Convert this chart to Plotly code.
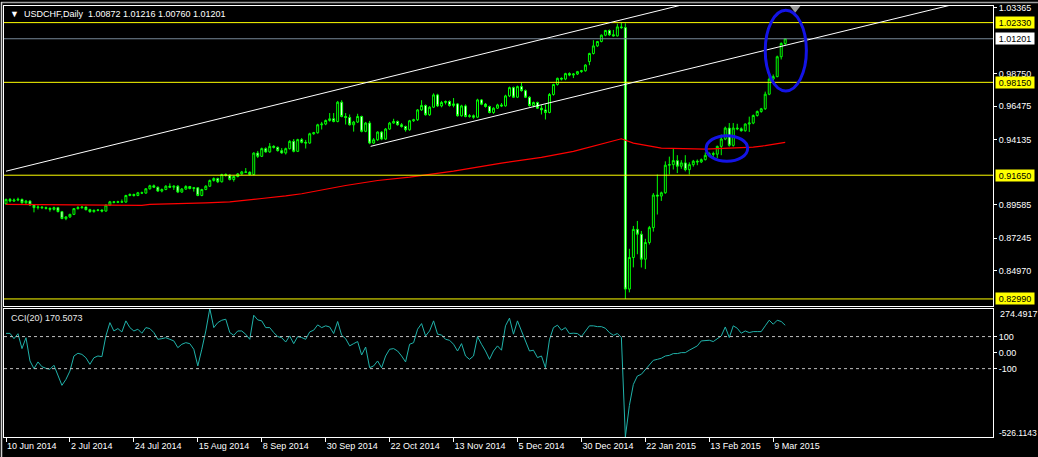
import plotly.graph_objects as go

# ---------------- data ----------------
bar_index = list(range(196))

opens = [
0.8965,0.8996,0.8984,0.8991,0.8996,0.8972,0.8984,0.8956,0.8938,0.8942,
0.8938,0.8933,0.8926,0.8938,0.8910,0.8861,0.8873,0.8891,0.8931,0.8938,
0.8942,0.8924,0.8910,0.8919,0.8921,0.8914,0.8956,0.8979,0.8975,0.8979,
0.8977,0.9023,0.9030,0.9023,0.9042,0.9040,0.9070,0.9091,0.9081,0.9054,
0.9065,0.9088,0.9081,0.9088,0.9047,0.9068,0.9086,0.9072,0.9077,0.9023,
0.9065,0.9088,0.9128,0.9142,0.9119,0.9170,0.9165,0.9135,0.9156,0.9174,
0.9188,0.9186,0.9170,0.9320,0.9297,0.9351,0.9328,0.9367,0.9360,0.9337,
0.9321,0.9351,0.9402,0.9332,0.9414,0.9395,0.9390,0.9455,0.9462,0.9518,
0.9523,0.9548,0.9560,0.9541,0.9676,0.9576,0.9569,0.9518,0.9537,0.9576,
0.9472,0.9530,0.9390,0.9413,0.9467,0.9418,0.9488,0.9530,0.9541,0.9518,
0.9506,0.9483,0.9546,0.9553,0.9622,0.9653,0.9588,0.9641,0.9727,0.9650,
0.9674,0.9681,0.9653,0.9664,0.9581,0.9650,0.9576,0.9581,0.9571,0.9692,
0.9662,0.9646,0.9604,0.9634,0.9657,0.9650,0.9720,0.9778,0.9711,0.9785,
0.9757,0.9711,0.9653,0.9674,0.9634,0.9622,0.9604,0.9730,0.9800,0.9843,
0.9838,0.9876,0.9866,0.9873,0.9890,0.9896,0.9960,1.0017,1.0070,1.0101,
1.0145,1.0178,1.0148,1.0140,1.0203,1.0198,0.8368,0.8589,0.8786,0.8752,
0.8577,0.8694,0.8798,0.9026,0.9019,0.9042,0.9235,0.9239,0.9267,0.9228,
0.9251,0.9204,0.9239,0.9263,0.9258,0.9274,0.9304,0.9316,0.9312,0.9367,
0.9418,0.9495,0.9374,0.9495,0.9490,0.9476,0.9523,0.9530,0.9583,0.9611,
0.9630,0.9732,0.9838,0.9855,0.9994,1.00872]

highs = [
0.9000,0.9005,0.9002,0.9008,0.9001,0.8992,0.8990,0.8962,0.8955,0.8948,
0.8945,0.8940,0.8945,0.8943,0.8915,0.8878,0.8895,0.8935,0.8948,0.8950,
0.8946,0.8930,0.8925,0.8928,0.8926,0.8960,0.8985,0.8984,0.8986,0.8995,
0.9028,0.9038,0.9036,0.9048,0.9050,0.9075,0.9098,0.9100,0.9086,0.9072,
0.9095,0.9108,0.9094,0.9096,0.9075,0.9095,0.9090,0.9082,0.9082,0.9070,
0.9095,0.9135,0.9150,0.9148,0.9175,0.9178,0.9172,0.9162,0.9180,0.9195,
0.9215,0.9192,0.9325,0.9335,0.9358,0.9360,0.9390,0.9375,0.9366,0.9355,
0.9358,0.9410,0.9418,0.9420,0.9425,0.9412,0.9462,0.9468,0.9525,0.9538,
0.9555,0.9600,0.9600,0.9685,0.9690,0.9600,0.9590,0.9545,0.9595,0.9582,
0.9538,0.9545,0.9425,0.9472,0.9474,0.9495,0.9538,0.9560,0.9548,0.9530,
0.9512,0.9552,0.9560,0.9628,0.9690,0.9660,0.9648,0.9738,0.9735,0.9685,
0.9688,0.9688,0.9705,0.9670,0.9658,0.9660,0.9592,0.9590,0.9700,0.9698,
0.9670,0.9652,0.9640,0.9665,0.9670,0.9728,0.9785,0.9785,0.9792,0.9812,
0.9765,0.9718,0.9680,0.9680,0.9655,0.9660,0.9740,0.9805,0.9848,0.9850,
0.9882,0.9885,0.9880,0.9895,0.9902,0.9942,1.0022,1.0110,1.0105,1.0150,
1.0182,1.0185,1.0182,1.0225,1.0233,1.0228,0.8650,0.8810,0.8845,0.8775,
0.8720,0.8810,0.9040,0.9170,0.9050,0.9262,0.9295,0.9355,0.9305,0.9270,
0.9305,0.9255,0.9272,0.9275,0.9282,0.9325,0.9325,0.9330,0.9372,0.9450,
0.9505,0.9530,0.9530,0.9525,0.9500,0.9528,0.9575,0.9590,0.9618,0.9636,
0.9750,0.9865,0.9870,1.0002,1.0095,1.01216]

lows = [
0.8958,0.8975,0.8978,0.8983,0.8966,0.8965,0.8950,0.8905,0.8925,0.8928,
0.8925,0.8910,0.8918,0.8905,0.8858,0.8850,0.8866,0.8886,0.8925,0.8930,
0.8918,0.8902,0.8903,0.8912,0.8905,0.8910,0.8950,0.8968,0.8970,0.8972,
0.8972,0.9018,0.9015,0.9018,0.9033,0.9035,0.9064,0.9075,0.9048,0.9045,
0.9060,0.9075,0.9062,0.9040,0.9042,0.9062,0.9066,0.9050,0.9018,0.9018,
0.9060,0.9083,0.9120,0.9110,0.9114,0.9155,0.9128,0.9120,0.9150,0.9168,
0.9180,0.9165,0.9165,0.9285,0.9292,0.9322,0.9322,0.9352,0.9330,0.9315,
0.9310,0.9345,0.9325,0.9327,0.9388,0.9352,0.9385,0.9448,0.9456,0.9485,
0.9515,0.9540,0.9535,0.9535,0.9570,0.9520,0.9512,0.9470,0.9530,0.9465,
0.9466,0.9382,0.9383,0.9405,0.9410,0.9412,0.9482,0.9525,0.9512,0.9498,
0.9470,0.9476,0.9538,0.9545,0.9615,0.9582,0.9580,0.9635,0.9642,0.9640,
0.9660,0.9645,0.9640,0.9575,0.9575,0.9570,0.9568,0.9560,0.9565,0.9655,
0.9638,0.9598,0.9595,0.9628,0.9642,0.9645,0.9712,0.9705,0.9705,0.9750,
0.9705,0.9645,0.9640,0.9628,0.9590,0.9555,0.9598,0.9722,0.9792,0.9828,
0.9830,0.9858,0.9845,0.9866,0.9882,0.9890,0.9935,1.0010,1.0062,1.0095,
1.0138,1.0140,1.0135,1.0135,1.0190,0.8299,0.8345,0.8520,0.8612,0.8519,
0.8508,0.8680,0.8770,0.8890,0.8985,0.9035,0.9170,0.9205,0.9180,0.9210,
0.9192,0.9170,0.9225,0.9235,0.9250,0.9268,0.9295,0.9290,0.9285,0.9305,
0.9410,0.9365,0.9365,0.9480,0.9470,0.9470,0.9468,0.9522,0.9575,0.9602,
0.9622,0.9725,0.9818,0.9850,0.9975,1.00760]

closes = [
0.8996,0.8984,0.8991,0.8996,0.8972,0.8984,0.8956,0.8938,0.8942,0.8938,
0.8933,0.8926,0.8938,0.8910,0.8861,0.8873,0.8891,0.8931,0.8938,0.8942,
0.8924,0.8910,0.8919,0.8921,0.8914,0.8956,0.8979,0.8975,0.8979,0.8977,
0.9023,0.9030,0.9023,0.9042,0.9040,0.9070,0.9091,0.9081,0.9054,0.9065,
0.9088,0.9081,0.9088,0.9047,0.9068,0.9086,0.9072,0.9077,0.9023,0.9065,
0.9088,0.9128,0.9142,0.9119,0.9170,0.9165,0.9135,0.9156,0.9174,0.9188,
0.9186,0.9170,0.9320,0.9297,0.9351,0.9328,0.9367,0.9360,0.9337,0.9321,
0.9351,0.9402,0.9332,0.9414,0.9395,0.9390,0.9455,0.9462,0.9518,0.9523,
0.9548,0.9560,0.9541,0.9676,0.9576,0.9569,0.9518,0.9537,0.9576,0.9472,
0.9530,0.9390,0.9413,0.9467,0.9418,0.9488,0.9530,0.9541,0.9518,0.9506,
0.9483,0.9546,0.9553,0.9622,0.9653,0.9588,0.9641,0.9727,0.9650,0.9674,
0.9681,0.9653,0.9664,0.9581,0.9650,0.9576,0.9581,0.9571,0.9692,0.9662,
0.9646,0.9604,0.9634,0.9657,0.9650,0.9720,0.9778,0.9711,0.9785,0.9757,
0.9711,0.9653,0.9674,0.9634,0.9622,0.9604,0.9730,0.9800,0.9843,0.9838,
0.9876,0.9866,0.9873,0.9890,0.9896,0.9936,1.0017,1.0070,1.0101,1.0145,
1.0178,1.0148,1.0140,1.0203,1.0198,0.8368,0.8589,0.8786,0.8752,0.8577,
0.8694,0.8798,0.9026,0.9019,0.9042,0.9235,0.9239,0.9267,0.9228,0.9251,
0.9204,0.9239,0.9263,0.9258,0.9274,0.9304,0.9316,0.9312,0.9367,0.9418,
0.9495,0.9374,0.9495,0.9490,0.9476,0.9523,0.9530,0.9583,0.9611,0.9630,
0.9732,0.9838,0.9855,0.9994,1.0087,1.01201]

# red moving average, read at points along the line
ma_index = [0, 14, 34, 36, 44, 50, 56, 60, 64, 70, 74, 85, 93, 101, 112, 124, 134,
            142, 150, 154, 157, 161, 164, 175, 184, 187, 190, 195]
ma_value = [0.8961, 0.8957, 0.8954, 0.8961, 0.8965, 0.8972, 0.8979, 0.8988, 0.9002,
            0.9020, 0.9035, 0.9093, 0.9128, 0.9151, 0.9193, 0.9250, 0.9290, 0.9332,
            0.9388, 0.9420, 0.9390, 0.9367, 0.9355, 0.9348, 0.9355, 0.9362, 0.9372, 0.9395]

cci = [
120,120,87,118,25,93,-52,-100,-58,-88,
-98,-104,-79,-136,-204,-167,-115,-21,-4,-11,
-32,-73,-32,-21,-25,104,187,135,150,129,
198,156,135,146,121,156,150,125,83,87,
93,83,73,31,52,62,56,21,-83,21,
135,274.4917,156,187,202,208,125,108,135,135,
114,83,233,204,198,156,156,125,100,93,
66,104,56,100,94,83,129,140,173,156,
167,160,119,194,108,87,42,56,69,-15,
35,-94,-83,-52,-94,-21,21,25,10,-21,
-58,52,62,146,181,104,135,198,115,110,
83,77,52,10,56,-21,-42,-21,100,52,
10,-42,10,42,15,167,215,115,198,135,
77,10,15,-31,-21,-94,80,156,171,140,
156,119,121,119,100,135,167,167,162,162,
152,125,108,119,94,-526.1143,-330,-198,-146,-135,
-104,-73,-48,-42,-35,-21,-17,-6,-6,0,
0,15,27,42,73,77,77,69,87,104,
160,94,167,152,121,135,125,131,131,131,
167,202,177,202,194,170.5073]

for arr in (opens, highs, lows, closes, cci):
    assert len(arr) == 196, len(arr)

date_index = [0, 16, 32, 48, 64, 80, 96, 112, 128, 144, 160, 176, 192]
date_labels = ["10 Jun 2014", "2 Jul 2014", "24 Jul 2014", "15 Aug 2014", "8 Sep 2014",
               "30 Sep 2014", "22 Oct 2014", "13 Nov 2014", "5 Dec 2014", "30 Dec 2014",
               "22 Jan 2015", "13 Feb 2015", "9 Mar 2015"]

price_ticks = [1.03365, 0.98750, 0.96475, 0.94135, 0.89585, 0.87245, 0.84970]
price_tick_text = ["1.03365", "0.98750", "0.96475", "0.94135", "0.89585", "0.87245", "0.84970"]
level_prices = [1.02330, 0.98150, 0.91650, 0.82990]
level_text = ["1.02330", "0.98150", "0.91650", "0.82990"]
bid_price = 1.01201
cci_ticks = [100, 0, -100]
cci_tick_text = ["100", "0.00", "-100"]
cci_max, cci_min = 274.4917, -526.1143

# trend lines (bar index, price) and marked areas
upper_line = ([0, 175], [0.9193, 1.0397])
lower_line = ([91.25, 240], [0.9367, 1.0380])
small_ellipse = ([175.2, 185.6], [0.9262, 0.9442])
big_ellipse = ([190.0, 200.3], [0.9755, 1.0319])

# ---------------- geometry ----------------
W, H = 1038, 457
L, R, T, B = 3, 45, 4, 20
PW, PH = W - L - R, H - T - B


def py(pix):  # paper y from pixel row
    return (H - B - pix) / PH


def px(pix):  # paper x from pixel column
    return (pix - L) / PW


FONT = "Liberation Sans, Arial, sans-serif"
fig = go.Figure()

fig.add_trace(go.Candlestick(
    x=bar_index, open=opens, high=highs, low=lows, close=closes,
    increasing=dict(line=dict(color="#00ff00", width=1), fillcolor="#000000"),
    decreasing=dict(line=dict(color="#00ff00", width=1), fillcolor="#ffffff"),
    whiskerwidth=0, showlegend=False, hoverinfo="skip", xaxis="x", yaxis="y"))

fig.add_trace(go.Scatter(x=ma_index, y=ma_value, mode="lines",
                         line=dict(color="#ff0000", width=1.2),
                         showlegend=False, hoverinfo="skip", xaxis="x", yaxis="y"))

fig.add_trace(go.Scatter(x=bar_index, y=cci, mode="lines",
                         line=dict(color="#20b2aa", width=1),
                         showlegend=False, hoverinfo="skip", xaxis="x2", yaxis="y2"))

# chart-shift marker
fig.add_trace(go.Scatter(x=[197.5], y=[1.0333], mode="markers",
                         marker=dict(symbol="triangle-down", size=9, color="#9a9a9a"),
                         showlegend=False, hoverinfo="skip", xaxis="x", yaxis="y"))

shapes = []
for p in level_prices:
    shapes.append(dict(type="line", xref="x domain", yref="y", x0=0, x1=1, y0=p, y1=p,
                       line=dict(color="#ffff00", width=1), layer="above"))
shapes.append(dict(type="line", xref="x domain", yref="y", x0=0, x1=1, y0=bid_price, y1=bid_price,
                   line=dict(color="#778899", width=1), layer="above"))
for (xs, ys) in (upper_line, lower_line):
    shapes.append(dict(type="line", xref="x", yref="y", x0=xs[0], x1=xs[1], y0=ys[0], y1=ys[1],
                       line=dict(color="#ffffff", width=1), layer="above"))
for (xs, ys) in (small_ellipse, big_ellipse):
    shapes.append(dict(type="circle", xref="x", yref="y", x0=xs[0], x1=xs[1], y0=ys[0], y1=ys[1],
                       line=dict(color="#1414e6", width=3), layer="above"))
for lv in (100, -100):
    shapes.append(dict(type="line", xref="x2 domain", yref="y2", x0=0, x1=1, y0=lv, y1=lv,
                       line=dict(color="#c0c0c0", width=1, dash="3px,3px"), layer="above"))
# window border (top and left)
shapes.append(dict(type="line", xref="paper", yref="paper", x0=px(0), x1=px(W), y0=py(0.5), y1=py(0.5),
                   line=dict(color="#a0a0a0", width=1.5)))
shapes.append(dict(type="line", xref="paper", yref="paper", x0=px(0.5), x1=px(0.5), y0=py(0), y1=py(H),
                   line=dict(color="#d0d0d0", width=1.5)))

annotations = []
for p, t in zip(level_prices, level_text):
    annotations.append(dict(xref="paper", yref="y", x=px(995), y=p, xanchor="left", yanchor="middle",
                            text=t, showarrow=False, bgcolor="#ffff00", width=36, height=9,
                            borderpad=1, font=dict(family=FONT, size=9, color="#000000")))
annotations.append(dict(xref="paper", yref="y", x=px(995), y=bid_price, xanchor="left", yanchor="middle",
                        text="1.01201", showarrow=False, bgcolor="#ffffff", width=36, height=9,
                        borderpad=1, font=dict(family=FONT, size=9, color="#000000")))
annotations.append(dict(xref="paper", yref="y2", x=px(998), y=cci_max, yshift=-5, xanchor="left",
                        yanchor="middle", text="274.4917", showarrow=False,
                        font=dict(family=FONT, size=9, color="#ffffff")))
annotations.append(dict(xref="paper", yref="y2", x=px(997), y=cci_min, yshift=4, xanchor="left",
                        yanchor="middle", text="-526.1143", showarrow=False,
                        font=dict(family=FONT, size=8.5, color="#ffffff")))
annotations.append(dict(xref="paper", yref="paper", x=px(7), y=py(12), xanchor="left", yanchor="middle",
                        text="\u25bc  USDCHF,Daily  1.00872 1.01216 1.00760 1.01201", showarrow=False,
                        font=dict(family=FONT, size=9, color="#ffffff")))
annotations.append(dict(xref="paper", yref="paper", x=px(8), y=py(317), xanchor="left", yanchor="middle",
                        text="CCI(20) 170.5073", showarrow=False,
                        font=dict(family=FONT, size=9, color="#e8e8e8")))

axis_common = dict(showgrid=False, zeroline=False, showline=True, mirror=True,
                   linecolor="#ffffff", linewidth=1, tickcolor="#ffffff",
                   tickfont=dict(family=FONT, size=9, color="#ffffff"))

fig.update_layout(
    width=W, height=H, margin=dict(l=L, r=R, t=T, b=B),
    paper_bgcolor="#000000", plot_bgcolor="#000000",
    showlegend=False, shapes=shapes, annotations=annotations,
    xaxis=dict(domain=[0, 1], range=[-0.5, 247], anchor="y", showticklabels=False, ticks="",
               rangeslider=dict(visible=False), **axis_common),
    yaxis=dict(domain=[py(305), 1], range=[0.82523, 1.03493], side="right",
               tickvals=price_ticks, ticktext=price_tick_text, ticks="outside", ticklen=3,
               anchor="x", **axis_common),
    xaxis2=dict(domain=[0, 1], range=[-0.5, 247], anchor="y2", matches="x",
                tickvals=date_index, ticktext=date_labels, ticks="outside", ticklen=4,
                ticklabelposition="outside right", **axis_common),
    yaxis2=dict(domain=[0, py(308)], range=[cci_min, cci_max], side="right",
                tickvals=cci_ticks, ticktext=cci_tick_text, ticks="outside", ticklen=3,
                anchor="x2", **axis_common),
)

fig.write_html(
    "out.html",
    config={"displayModeBar": False},
    post_script="document.body.style.margin='0';document.body.style.padding='0';"
                "document.body.style.background='#000';document.body.style.overflow='hidden';",
)
